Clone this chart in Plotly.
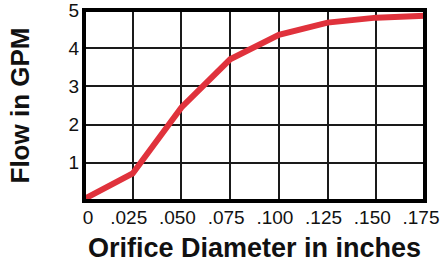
import plotly.graph_objects as go

diameter = [0, 0.025, 0.05, 0.075, 0.1, 0.125, 0.15, 0.175]
flow_gpm = [0.05, 0.72, 2.45, 3.71, 4.35, 4.67, 4.8, 4.85]
x_tick_vals = [0, 0.025, 0.05, 0.075, 0.1, 0.125, 0.15, 0.175]
x_tick_text = ["\u00a0\u00a0\u00a00", ".025", ".050", ".075", ".100", ".125", ".150", ".175"]
y_tick_vals = [1, 2, 3, 4, 5]
y_tick_text = ["1", "2", "3", "4", "5"]

fig = go.Figure()
fig.add_trace(go.Scatter(
    x=diameter, y=flow_gpm, mode="lines",
    line=dict(color="#e0323c", width=6),
    cliponaxis=False, showlegend=False,
))

font_family = "Liberation Sans, Arial, sans-serif"
fig.update_layout(
    template="none",
    width=441, height=266,
    margin=dict(l=84, r=16, t=10, b=65, autoexpand=False),
    paper_bgcolor="white", plot_bgcolor="white",
    font=dict(family=font_family, color="#111"),
    shapes=[dict(type="rect", xref="paper", yref="paper", x0=0, x1=1, y0=0, y1=1,
                 line=dict(color="black", width=4), layer="above")],
)
fig.update_xaxes(
    range=[0, 0.175], tickvals=x_tick_vals, ticktext=x_tick_text,
    tickfont=dict(size=19, color="#111"), ticks="", ticklabelstandoff=3,
    ticklabelshift=-4, ticklabeloverflow="allow",
    showgrid=True, gridcolor="#1a1a1a", gridwidth=2,
    showline=False,
    zeroline=False, automargin=False,
    title=dict(text="<b>Orifice Diameter in inches</b>", font=dict(size=27, color="#111"), standoff=11),
)
fig.update_yaxes(
    range=[0, 5], tickvals=y_tick_vals, ticktext=y_tick_text,
    tickfont=dict(size=19, color="#111"), ticks="", ticklabelstandoff=4,
    ticklabeloverflow="allow",
    showgrid=True, gridcolor="#1a1a1a", gridwidth=2,
    showline=False,
    zeroline=False, automargin=False,
    title=dict(text="<b>Flow in GPM</b>", font=dict(size=26, color="#111"), standoff=31),
)

fig.write_html(
    "out.html",
    config={"displayModeBar": False, "staticPlot": True},
    post_script="document.body.style.margin='0';document.body.style.overflow='hidden';",
)
